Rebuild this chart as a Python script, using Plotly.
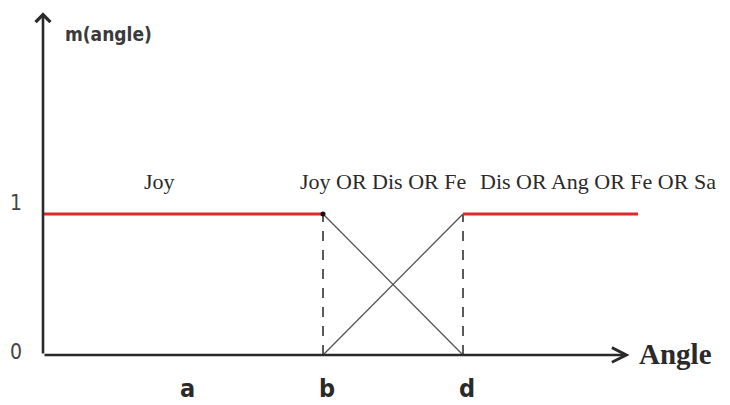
import plotly.graph_objects as go

# ---- data ----
tick_names = ["a", "b", "d"]
tick_pos = [1.0, 2.0, 3.0]
y_labels = ["0", "1"]
y_label_vals = [0.0, 1.0]

# membership segments (x, y)
joy_x = [0.0, 2.0]
joy_y = [1.0, 1.0]
right_x = [3.0, 4.25]
right_y = [1.0, 1.0]
down_x = [2.0, 3.0]
down_y = [1.0, 0.0]
up_x = [2.0, 3.0]
up_y = [0.0, 1.0]

region_texts = ["Joy", "Joy OR Dis OR Fe", "Dis OR Ang OR Fe OR Sa"]
region_x = [0.71, 1.82, 3.11]

x_axis_end = 4.19
y_axis_top = 2.43

RED = "#e3262b"
INK = "#2a2a2a"
SERIF = "Liberation Serif, Times New Roman, serif"
NARROW = "Liberation Sans Narrow, DejaVu Sans Condensed, Arial Narrow, sans-serif"

fig = go.Figure()

# dashed verticals at b and d
for xv in [tick_pos[1], tick_pos[2]]:
    fig.add_trace(go.Scatter(x=[xv, xv], y=[0, 1], mode="lines",
                             line=dict(color="#333333", width=1.6, dash="10px,9px"),
                             hoverinfo="skip"))
# diagonals
fig.add_trace(go.Scatter(x=down_x, y=down_y, mode="lines",
                         line=dict(color="#555555", width=1.3), hoverinfo="skip"))
fig.add_trace(go.Scatter(x=up_x, y=up_y, mode="lines",
                         line=dict(color="#555555", width=1.3), hoverinfo="skip"))
# red segments
fig.add_trace(go.Scatter(x=joy_x, y=joy_y, mode="lines",
                         line=dict(color=RED, width=3), hoverinfo="skip"))
fig.add_trace(go.Scatter(x=right_x, y=right_y, mode="lines",
                         line=dict(color=RED, width=3), hoverinfo="skip"))
# dots
fig.add_trace(go.Scatter(x=[tick_pos[1]], y=[1.0], mode="markers",
                         marker=dict(color="#111111", size=5), hoverinfo="skip"))

# axes with arrows
fig.add_annotation(x=x_axis_end, y=0, ax=0, ay=0, xref="x", yref="y",
                   axref="x", ayref="y", showarrow=True, arrowhead=5,
                   arrowsize=1.1, arrowwidth=2.6, arrowcolor=INK, text="")
fig.add_annotation(x=0, y=y_axis_top, ax=0, ay=0, xref="x", yref="y",
                   axref="x", ayref="y", showarrow=True, arrowhead=4,
                   arrowsize=1.1, arrowwidth=2.6, arrowcolor=INK, text="")

# region labels
for t, xv in zip(region_texts, region_x):
    fig.add_annotation(x=xv, y=1.23, xref="x", yref="y", text=t, showarrow=False,
                       xanchor="left", yanchor="middle",
                       font=dict(family=SERIF, size=22, color=INK))

# tick letters
for t, xv in zip(tick_names, tick_pos):
    fig.add_annotation(x=xv + 0.03, y=-0.235, xref="x", yref="y", text="<b>" + t + "</b>",
                       showarrow=False, xanchor="center", yanchor="middle",
                       borderpad=0,
                       font=dict(family=NARROW, size=25, color=INK))

# y labels
for t, yv in zip(y_labels, y_label_vals):
    fig.add_annotation(x=-0.19, y=yv + (0.08 if yv == 1 else 0.02), xref="x", yref="y",
                       text=t, showarrow=False, xanchor="center", yanchor="middle",
                       font=dict(family=NARROW, size=21, color="#444444"))

fig.add_annotation(x=0.14, y=2.28, xref="x", yref="y", text="<b>m(angle)</b>",
                   showarrow=False, xanchor="left", yanchor="middle",
                   font=dict(family=NARROW, size=19, color="#3a3a3a"))
fig.add_annotation(x=4.24, y=0.01, xref="x", yref="y", text="<b>Angle</b>",
                   showarrow=False, xanchor="left", yanchor="middle",
                   font=dict(family=SERIF, size=29, color=INK))

# page body has an 8px margin: figure is 722x397, ranges set so that
# page px = 43 + 140*x and 355 - 141*y
fig.update_layout(
    width=722, height=397, margin=dict(l=0, r=0, t=0, b=0),
    paper_bgcolor="white", plot_bgcolor="white", showlegend=False,
    xaxis=dict(range=[-0.25, 4.907], visible=False, fixedrange=True),
    yaxis=dict(range=[-0.355, 2.461], visible=False, fixedrange=True),
)

fig.write_html("out.html")
